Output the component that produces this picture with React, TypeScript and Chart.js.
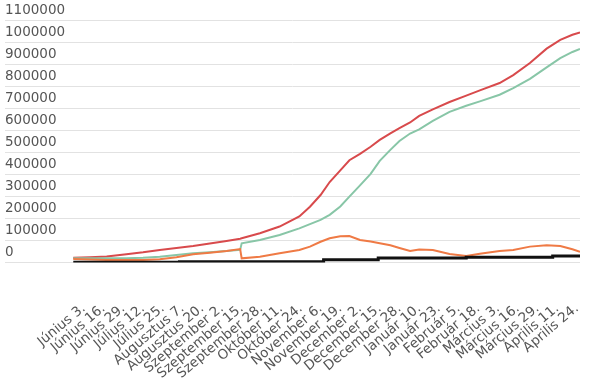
import React, { useEffect, useRef } from "react";
import { Chart, registerables } from "chart.js";

Chart.register(...registerables);

// Tick labels (every 13 days starting at "Június 3." = day 0)
const tickLabels = [
  "Június 3.", "Június 16.", "Június 29.", "Július 12.", "Július 25.",
  "Augusztus 7.", "Augusztus 20.", "Szeptember 2.", "Szeptember 15.", "Szeptember 28.",
  "Október 11.", "Október 24.", "November 6.", "November 19.", "December 2.",
  "December 15.", "December 28.", "Január 10.", "Január 23.", "Február 5.",
  "Február 18.", "Március 3.", "Március 16.", "Március 29.", "Április 11.", "Április 24.",
];
const tickStepDays = 13;

// Sample days (relative to Június 3.)
const days = [
  -7, 4, 15, 28, 39, 50, 61, 72, 83, 94,
  103, 104, 116, 129, 142, 149, 156, 162, 169, 175,
  182, 189, 195, 202, 208, 215, 221, 230, 241, 252,
  261, 274, 283, 294, 305, 314, 322, 327,
];

const totalCases = [
  22000, 24000, 27000, 37000, 46000, 57000, 66000, 75000, 86000, 98000,
  108000, 110000, 133000, 163000, 209000, 253000, 306000, 365000, 418000, 464000,
  493000, 525000, 556000, 586000, 610000, 635000, 665000, 695000, 728000, 757000,
  781000, 814000, 850000, 905000, 970000, 1010000, 1033000, 1044000,
];

const recovered = [
  19000, 19000, 19000, 19000, 21000, 26000, 34000, 42000, 47000, 52000,
  57000, 87000, 102000, 125000, 155000, 174000, 193000, 216000, 254000, 299000,
  350000, 402000, 461000, 511000, 551000, 585000, 604000, 642000, 683000, 711000,
  731000, 761000, 791000, 833000, 885000, 927000, 955000, 969000,
];

const active = [
  16000, 14000, 11000, 11000, 11000, 15000, 24000, 37000, 44000, 52000,
  61000, 19000, 26000, 42000, 57000, 72000, 94000, 110000, 119000, 120000,
  102000, 95000, 87000, 78000, 66000, 52000, 59000, 57000, 39000, 30000,
  40000, 52000, 57000, 72000, 78000, 75000, 60000, 49000,
];

const deathDays = [-7, 63, 158, 194, 252, 309, 327];
const deaths = [1000, 3000, 12000, 20000, 24000, 29500, 29500];

const yTicks = [0, 100000, 200000, 300000, 400000, 500000, 600000, 700000, 800000, 900000, 1000000, 1100000];

export default function App() {
  const ref = useRef<HTMLCanvasElement | null>(null);

  useEffect(() => {
    if (!ref.current) return;
    const font = { family: "'DejaVu Sans', sans-serif", size: 13.5 };
    const pts = (xs: number[], ys: number[]) => xs.map((x, i) => ({ x, y: ys[i] }));
    const chart = new Chart(ref.current, {
      type: "line",
      data: {
        datasets: [
          { label: "Elhunytak", data: pts(deathDays, deaths), borderColor: "#111111", borderWidth: 3, stepped: true, pointRadius: 0 },
          { label: "Aktív", data: pts(days, active), borderColor: "#ef7a45", borderWidth: 2, pointRadius: 0 },
          { label: "Gyógyultak", data: pts(days, recovered), borderColor: "#88c6a7", borderWidth: 2, pointRadius: 0 },
          { label: "Összes eset", data: pts(days, totalCases), borderColor: "#d84a4c", borderWidth: 2, pointRadius: 0 },
        ],
      },
      options: {
        responsive: false,
        animation: false,
        layout: { padding: { left: 5, right: 15, top: 20, bottom: 0 } },
        plugins: { legend: { display: false }, tooltip: { enabled: false } },
        scales: {
          x: {
            type: "linear",
            min: -52,
            max: 327,
            grid: { display: false },
            border: { display: false },
            afterBuildTicks: (s: any) => {
              s.ticks = tickLabels.map((_, i) => ({ value: i * tickStepDays }));
            },
            afterFit: (s: any) => {
              s.height = 122.5;
              s.paddingLeft = 0;
              s.paddingRight = 0;
            },
            ticks: {
              autoSkip: false,
              minRotation: 40,
              maxRotation: 40,
              padding: 30,
              color: "#555555",
              font,
              callback: (v: any) => tickLabels[Math.round(Number(v) / tickStepDays)] ?? "",
            },
          },
          y: {
            min: 0,
            max: 1100000,
            afterBuildTicks: (s: any) => {
              s.ticks = yTicks.map((v) => ({ value: v }));
            },
            afterFit: (s: any) => {
              s.width = 0;
              s.paddingTop = 0;
              s.paddingBottom = 0;
            },
            grid: { color: "#e2e2e2", drawTicks: false, lineWidth: 1 },
            border: { display: false },
            ticks: {
              mirror: true,
              padding: 0,
              labelOffset: -10,
              color: "#555555",
              font,
              callback: (v: any) => String(v),
            },
          },
        },
      },
    });
    return () => chart.destroy();
  }, []);

  return (
    <div style={{ position: "fixed", left: 0, top: 0, width: 595, height: 385, background: "#fff" }}>
      <canvas ref={ref} width={595} height={385} style={{ display: "block" }} />
    </div>
  );
}
